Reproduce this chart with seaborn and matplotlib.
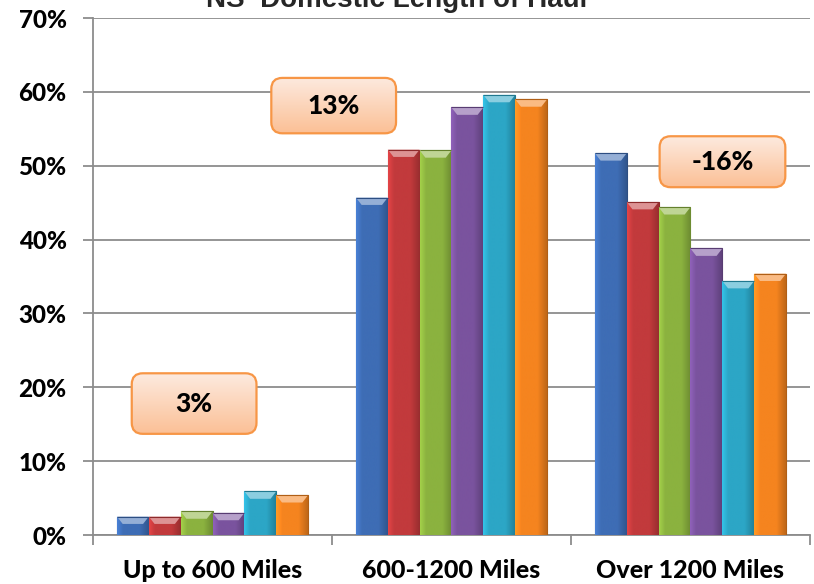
import numpy as np
import pandas as pd
import matplotlib
matplotlib.use("Agg")
import matplotlib.pyplot as plt
import matplotlib.colors as mcolors
from matplotlib.patches import FancyBboxPatch, Polygon
from matplotlib.transforms import IdentityTransform
import seaborn as sns

# Share of domestic shipments by length of haul, six successive years
categories = ["Up to 600 Miles", "600-1200 Miles", "Over 1200 Miles"]
years = ["Y1", "Y2", "Y3", "Y4", "Y5", "Y6"]
up_to_600 = [2.5, 2.5, 3.2, 3.0, 5.9, 5.4]
mid_600_1200 = [45.7, 52.2, 52.1, 57.9, 59.6, 59.0]
over_1200 = [51.7, 45.1, 44.4, 38.8, 34.4, 35.4]
changes = ["3%", "13%", "-16%"]
bar_colors = ["#3E6DB5", "#C23A3C", "#8BB23F", "#7A539E", "#2CA6C6", "#F5841F"]

rows = []
for cat, vals in zip(categories, [up_to_600, mid_600_1200, over_1200]):
    for yr, v in zip(years, vals):
        rows.append({"haul": cat, "year": yr, "share": v})
df = pd.DataFrame(rows)

sns.set_theme(style="white")
plt.rcParams["font.family"] = ["Lato", "DejaVu Sans"]

fig = plt.figure(figsize=(8.14, 5.84), dpi=100)
ax = fig.add_axes([0.1143, 0.0839, 0.8807, 0.8851])

sns.barplot(data=df, x="haul", y="share", hue="year", palette=bar_colors,
            width=0.8, saturation=1, legend=False, ax=ax, zorder=3)

# bevel styling on each bar: horizontal shading plus a light top chevron
shade = np.concatenate([np.linspace(1.18, 1.0, 20), np.ones(50), np.linspace(1.0, 0.78, 30)])
for patch in list(ax.patches):
    x0 = patch.get_x()
    w = patch.get_width()
    h = patch.get_height()
    base = np.array(mcolors.to_rgb(patch.get_facecolor()))
    dark = base * 0.72
    light = base + (1 - base) * 0.45
    patch.set_edgecolor(dark)
    patch.set_linewidth(0.8)
    cols = np.clip(base[None, :] * shade[:, None], 0, 1)[None, :, :]
    im = ax.imshow(cols, extent=(x0, x0 + w, 0, h), aspect="auto", zorder=3.5,
                   interpolation="bilinear")
    im.set_clip_path(patch)
    d = min(1.0, h * 0.45)
    ax.add_patch(Polygon([(x0, h), (x0 + w, h), (x0 + w * 0.82, h - d), (x0 + w * 0.18, h - d)],
                         closed=True, facecolor=light, edgecolor="none", zorder=4))
    ax.add_patch(Polygon([(x0, h), (x0 + w, h), (x0 + w, h), (x0, h)],
                         closed=True, facecolor="none", edgecolor=dark, linewidth=0.8, zorder=4))

ax.set_ylim(0, 70)
ax.set_xlim(-0.5, 2.5)
ax.set_yticks(np.arange(0, 71, 10))
ax.set_yticklabels([f"{t}%" for t in range(0, 71, 10)], fontsize=17.5, fontweight="black")
ax.set_xticks([0, 1, 2])
ax.set_xticklabels(categories, fontsize=18, fontweight="black")
ax.set_xlabel("")
ax.set_ylabel("")

grid_c = "#8C8C8C"
ax.yaxis.grid(True, color=grid_c, linewidth=1.3, zorder=0)
ax.set_axisbelow(True)
for s in ["top", "right"]:
    ax.spines[s].set_visible(False)
for s in ["left", "bottom"]:
    ax.spines[s].set_color(grid_c)
    ax.spines[s].set_linewidth(1.3)
ax.tick_params(axis="y", which="major", left=True, length=7.5, width=1.3, color=grid_c, pad=11.5, labelcolor="black")
ax.tick_params(axis="x", which="major", bottom=False, pad=11, labelcolor="black")
# category separator ticks on the x axis
ax.set_xticks([-0.5, 0.5, 1.5, 2.5], minor=True)
ax.tick_params(axis="x", which="minor", bottom=True, length=7, width=1.3, color=grid_c)

# change callouts, sized in data units, drawn in pixels so corners stay round
boxes = [(-0.338, 13.7, 0.522, 8.2), (0.246, 54.4, 0.522, 7.5), (1.871, 47.1, 0.526, 6.9)]
grad = np.linspace(0, 1, 100).reshape(-1, 1)
cmap = mcolors.LinearSegmentedColormap.from_list("peach", ["#FBC096", "#FDEADF"])
fig.canvas.draw()
for (bx, by, bw, bh), label in zip(boxes, changes):
    (px0, py0), (px1, py1) = ax.transData.transform([(bx, by), (bx + bw, by + bh)])
    box = FancyBboxPatch((px0, py0), px1 - px0, py1 - py0,
                         boxstyle="round,pad=0,rounding_size=11",
                         transform=IdentityTransform(),
                         facecolor="none", edgecolor="#F79646", linewidth=1.6, zorder=6)
    ax.add_artist(box)
    im = ax.imshow(grad, extent=(bx, bx + bw, by, by + bh), origin="lower", cmap=cmap,
                   aspect="auto", zorder=5)
    im.set_clip_path(box)
    ax.text(bx + bw / 2, by + bh / 2, label, ha="center", va="center",
            fontsize=19, fontweight="black", color="black", zorder=7)
ax.set_xlim(-0.5, 2.5)
ax.set_ylim(0, 70)

fig.text(0.487, 1 - 7 / 584, "NS  Domestic Length of Haul", ha="center", va="baseline",
         fontsize=20, fontweight="bold", family=["Liberation Sans", "DejaVu Sans"])

fig.savefig("out.png", dpi=100)
